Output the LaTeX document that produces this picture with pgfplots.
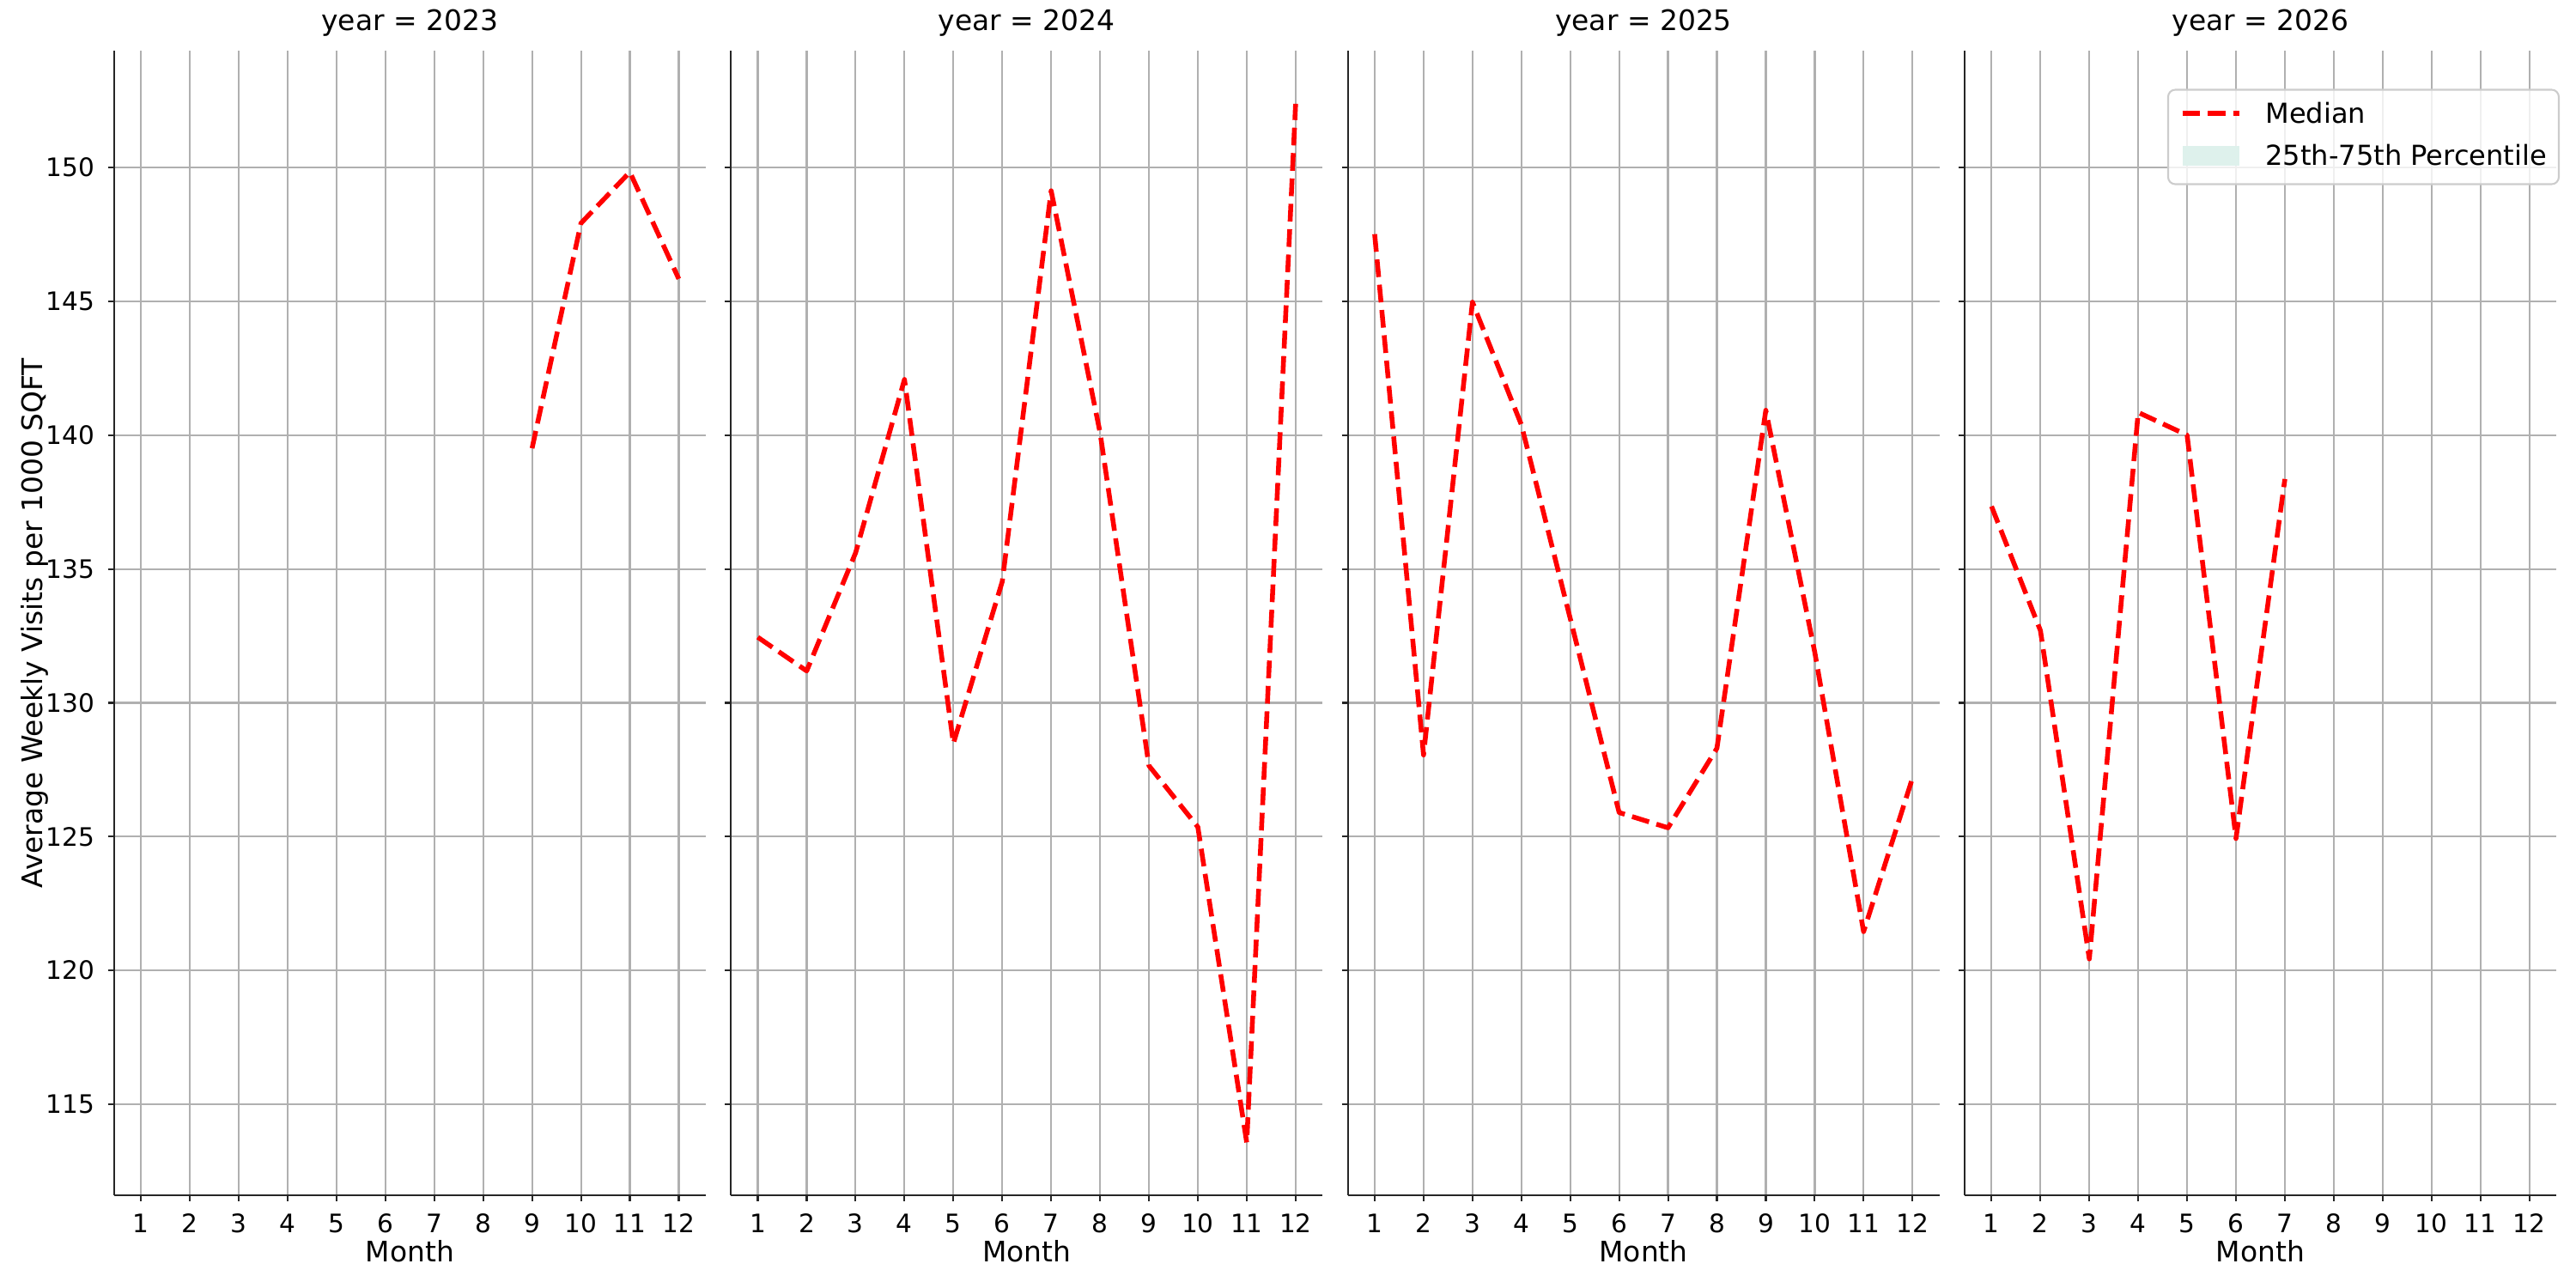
\documentclass[border=0pt]{standalone}
\usepackage{fontspec}
\setmainfont{DejaVu Sans}
\usepackage{pgfplots}
\pgfplotsset{compat=1.18}

\definecolor{spine}{RGB}{38,38,38}
\definecolor{gridc}{RGB}{176,176,176}
\definecolor{legc}{RGB}{204,204,204}
\definecolor{pctfill}{RGB}{222,241,236}

\newcommand\tickfont{\fontsize{14.2}{17}\selectfont}
\newcommand\labfont{\fontsize{15.8}{19}\selectfont}
\newcommand\legfont{\fontsize{15.4}{19}\selectfont}

\tikzset{
  medline/.style={red, line width=2.67pt, dash pattern=on 9.9pt off 4.3pt, line cap=butt, line join=round},
}

\pgfplotsset{
  panel/.style={
    scale only axis, width=330.72pt, height=639.6pt, anchor=south west,
    xmin=0.45, xmax=12.55, ymin=111.6, ymax=154.35,
    xtick={1,...,12}, ytick={115,120,...,150},
    axis x line*=bottom, axis y line*=left,
    axis line style={-, draw=spine, line width=1pt},
    tick align=outside, major tick length=3.3pt,
    tick style={draw=spine, line width=1pt},
    grid=major, major grid style={draw=gridc, line width=1.05pt},
    /pgf/number format/assume math mode=true,
    ticklabel style={font=\tickfont},
    xticklabel style={anchor=base, inner sep=0pt, yshift=-17.8pt},
    yticklabel style={anchor=east, inner sep=0pt, xshift=-7.3pt},
    xlabel={Month},
    xlabel style={at={(axis description cs:0.5,0)}, anchor=base, inner sep=0pt, yshift=-37pt, font=\labfont},
    title style={at={(axis description cs:0.5,1)}, anchor=base, inner sep=0pt, yshift=5.7pt, font=\labfont},
  },
  nolabels/.style={yticklabels={}},
}

\begin{document}
\begin{tikzpicture}
\path[use as bounding box] (0,0) rectangle (1440pt,720pt);

% 2023
\begin{axis}[panel, at={(63.74pt,51.84pt)}, title={year = 2023},
    ylabel={Average Weekly Visits per 1000 SQFT},
    ylabel style={at={(axis description cs:-0.1216,0.5)}, anchor=base, inner sep=0pt, font=\labfont}]
\addplot[medline] coordinates {
(9,139.51) (10,147.92) (11,149.83) (12,145.84)
};
\end{axis}

% 2024
\begin{axis}[panel, nolabels, at={(408.57pt,51.84pt)}, title={year = 2024}]
\addplot[medline] coordinates {
(1,132.45) (2,131.19) (3,135.6) (4,142.08) (5,128.48) (6,134.53)
(7,149.13) (8,140.1) (9,127.65) (10,125.36) (11,113.57) (12,152.38)
};
\end{axis}

% 2025
\begin{axis}[panel, nolabels, at={(753.40pt,51.84pt)}, title={year = 2025}]
\addplot[medline] coordinates {
(1,147.51) (2,128.05) (3,144.97) (4,140.39) (5,133.15) (6,125.9)
(7,125.33) (8,128.3) (9,140.93) (10,131.9) (11,121.45) (12,127.19)
};
\end{axis}

% 2026
\begin{axis}[panel, nolabels, at={(1098.23pt,51.84pt)}, title={year = 2026},
    legend style={at={(1.0058,0.967)}, anchor=north east, font=\legfont,
      draw=legc, line width=1pt, rounded corners=4pt,
      fill=white, fill opacity=0.8, text opacity=1, draw opacity=1,
      inner xsep=6.7pt, inner ysep=6.9pt, row sep=8pt, column sep=13.4pt,
      cells={anchor=base west},
      nodes={inner sep=0pt, text height=12pt, text depth=3.5pt}}]
\addplot[medline, legend image code/.code={\draw[medline] (0pt,5.8pt) -- (31.7pt,5.8pt);}] coordinates {
(1,137.34) (2,132.7) (3,120.43) (4,140.85) (5,140.0) (6,124.93) (7,138.36)
};
\addlegendentry{Median}
\addlegendimage{area legend, draw=none, fill=pctfill,
    legend image code/.code={\fill[pctfill, fill opacity=1, sharp corners] (0pt,0pt) rectangle (31.7pt,10.9pt);}}
\addlegendentry{25th-75th Percentile}
\end{axis}
\end{tikzpicture}
\end{document}
